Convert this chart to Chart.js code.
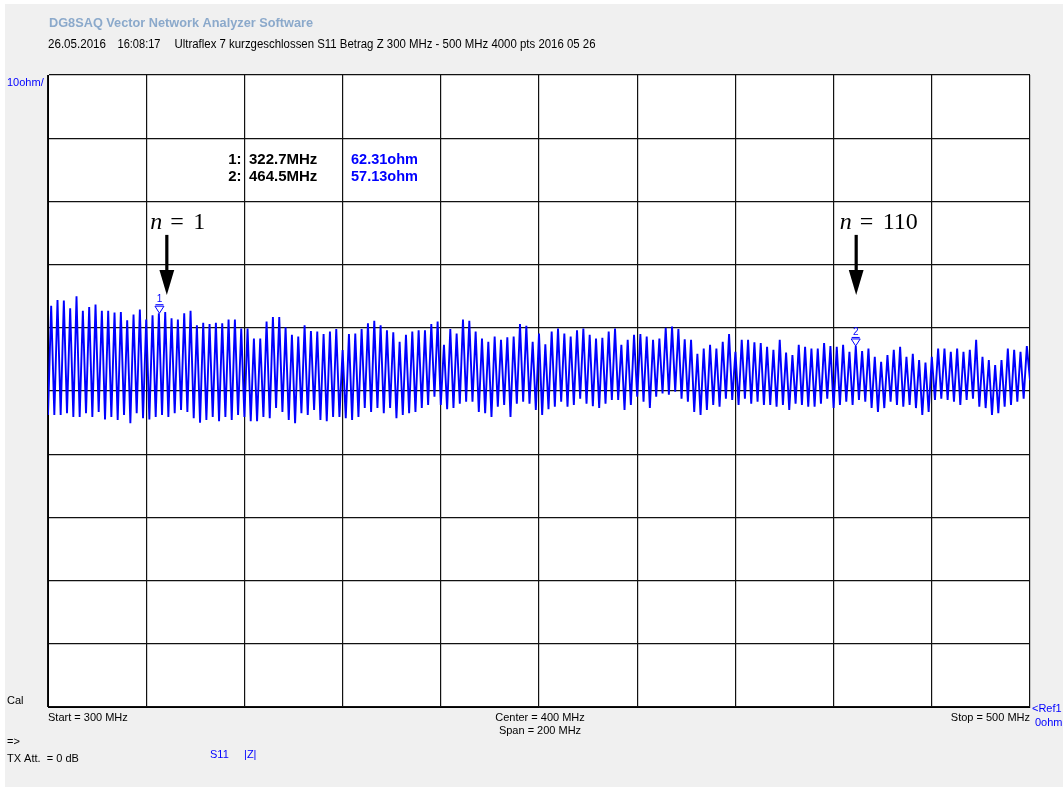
<!DOCTYPE html>
<html>
<head>
<meta charset="utf-8">
<title>DG8SAQ VNA - S11 |Z|</title>
<script src="https://cdn.jsdelivr.net/npm/chart.js@4.4.0/dist/chart.umd.min.js"></script>
<style>
  html, body { margin: 0; padding: 0; background: #fff; }
  canvas { display: block; }
</style>
</head>
<body>
<canvas id="vna" width="1063" height="787"></canvas>
<script>
// sweep settings (from the header: 300 MHz - 500 MHz)
const fStart = 300;
const fStop = 500;

// |Z| in ohm, minimum and maximum of each ripple left to right
const troughs = [
  46.2, 46.2, 46.2, 46.5, 45.9, 45.9, 46.5, 45.9, 46.7, 45.5, 45.9, 45.4, 46.2, 44.9, 46.5, 45.7, 45.5, 45.9, 46.2, 45.9,
  46.5, 47.0, 46.7, 45.7, 45.0, 45.4, 45.9, 45.2, 45.9, 45.4, 46.2, 45.9, 45.2, 45.2, 45.9, 45.7, 47.3, 46.7, 45.4,
  44.9, 46.5, 46.2, 47.0, 45.4, 45.2, 45.9, 45.9, 45.7, 45.4, 45.9, 47.3, 46.7, 47.3, 46.5, 47.3, 45.7, 46.2, 46.5, 46.7,
  47.3, 47.8, 49.1, 47.8, 47.1, 47.3, 48.0, 48.3, 48.3, 46.7, 46.5, 45.9, 47.5, 47.8, 45.9, 48.0, 48.3, 48.0, 47.0,
  46.2, 47.1, 47.5, 48.3, 47.5, 47.8, 48.8, 48.0, 47.6, 47.3, 48.0, 48.6, 48.6, 47.0, 47.8, 49.1, 48.3, 47.3, 49.1, 49.6,
  49.4, 49.9, 48.8, 48.3, 46.7, 46.2, 47.0, 47.8, 47.5, 48.8, 48.6, 47.8, 48.8, 48.0, 48.3, 47.8, 47.8, 47.5, 47.8,
  47.0, 48.0, 47.8, 47.5, 47.5, 48.0, 48.8, 47.3, 47.8, 48.3, 47.8, 48.6, 48.3, 47.3, 46.7, 47.3, 48.3, 47.8, 47.5, 47.8,
  47.3, 46.2, 46.7, 48.6, 48.8, 48.6, 48.3, 47.8, 48.6, 48.8, 47.5, 47.3, 46.2, 46.5, 47.5, 47.8, 48.3, 48.8
];
const peaks = [
  63.5, 64.4, 64.3, 63.1, 65.0, 62.7, 63.3, 63.7, 62.7, 62.7, 62.4, 62.5, 61.2, 62.1, 62.9, 61.3, 62.0, 62.3, 62.5, 61.5,
  61.3, 62.3, 62.7, 60.4, 60.8, 60.6, 60.8, 60.7, 61.3, 61.3, 59.9, 59.9, 58.3, 58.3, 61.0, 61.7, 61.7, 60.1,
  58.9, 58.6, 60.4, 59.5, 59.4, 59.0, 59.4, 59.8, 56.5, 59.0, 59.1, 59.8, 60.7, 61.1, 60.4, 59.6, 59.3, 57.8, 58.9, 59.4,
  59.6, 59.6, 60.6, 61.0, 57.3, 59.8, 59.1, 61.3, 61.1, 59.4, 58.3, 57.8, 58.6, 58.1, 58.5, 58.6, 60.6, 60.3, 57.8, 59.1,
  57.4, 59.4, 59.9, 59.1, 58.6, 59.6, 59.9, 58.9, 58.3, 58.4, 59.4, 59.9, 57.3, 58.1, 58.9, 59.0, 58.6, 58.1, 58.3, 60.0,
  60.2, 59.8, 58.2, 58.1, 55.9, 56.7, 57.3, 56.7, 57.8, 59.0, 56.2, 58.1, 58.1, 57.7, 57.6, 57.0, 56.5, 58.1, 56.1,
  55.7, 57.3, 57.0, 56.7, 56.7, 57.6, 57.1, 57.0, 57.3, 56.2, 57.13, 56.3, 56.7, 55.4, 54.6, 55.7, 56.5, 57.0, 55.4, 55.9,
  54.9, 54.5, 55.4, 56.7, 56.7, 56.2, 56.7, 56.2, 56.5, 58.1, 55.4, 54.9, 54.1, 54.9, 56.7, 56.5, 56.2, 57.1
];
const lastValue = 51.7; // trace value at 500 MHz

// markers 1 and 2
const markerFreqs = [322.7, 464.5];
const markerValues = [62.31, 57.13];

// the "n = ..." arrows
const arrowLabels = ['1', '110'];
const arrowFreqs = [324.2, 464.6];

// build the trace on the sweep grid
const trace = [];
for (let i = 0; i < peaks.length; i++) {
  trace.push(troughs[i], peaks[i]);
}
trace.push(lastValue);
const step = (fStop - fStart) / (trace.length - 1);
const tracePoints = trace.map((v, k) => ({ x: fStart + k * step, y: v }));

const blue = '#0000ff';

function text(ctx, s, x, y, font, color, align, maxW) {
  ctx.font = font;
  ctx.fillStyle = color;
  ctx.textAlign = align || 'left';
  ctx.textBaseline = 'alphabetic';
  if (maxW) ctx.fillText(s, x, y, maxW); else ctx.fillText(s, x, y);
}

const framePlugin = {
  id: 'frame',
  beforeDraw(chart) {
    const ctx = chart.ctx, a = chart.chartArea;
    ctx.save();
    ctx.fillStyle = '#ffffff';
    ctx.fillRect(0, 0, chart.width, chart.height);
    ctx.fillStyle = '#f0f0f0';
    ctx.fillRect(5, 4, chart.width - 5, chart.height - 4);
    ctx.fillStyle = '#ffffff';
    ctx.fillRect(a.left, a.top, a.right - a.left, a.bottom - a.top);
    ctx.restore();
  }
};

const labelPlugin = {
  id: 'labels',
  afterDraw(chart) {
    const ctx = chart.ctx;
    const xs = chart.scales.x, ys = chart.scales.y;
    ctx.save();
    const sans = '"Liberation Sans", Arial, sans-serif';

    // header
    text(ctx, 'DG8SAQ Vector Network Analyzer Software', 49, 26.5, 'bold 13px ' + sans, '#8ba9cb', 'left', 264);
    text(ctx, '26.05.2016', 48, 48, '12px ' + sans, '#000', 'left', 58);
    text(ctx, '16:08:17', 117.5, 48, '12px ' + sans, '#000', 'left', 43);
    text(ctx, 'Ultraflex 7 kurzgeschlossen S11 Betrag Z 300 MHz - 500 MHz 4000 pts 2016 05 26', 174.5, 48, '12px ' + sans, '#000', 'left', 421);

    // left / bottom info
    text(ctx, '10ohm/', 7, 86, '11px ' + sans, blue, 'left');
    text(ctx, 'Cal', 7, 704, '11px ' + sans, '#000', 'left');
    text(ctx, 'Start = ' + fStart + ' MHz', 48, 721, '11px ' + sans, '#000', 'left');
    text(ctx, 'Center = ' + (fStart + fStop) / 2 + ' MHz', 540, 721, '11px ' + sans, '#000', 'center');
    text(ctx, 'Span = ' + (fStop - fStart) + ' MHz', 540, 734, '11px ' + sans, '#000', 'center');
    text(ctx, 'Stop = ' + fStop + ' MHz', 1030, 721, '11px ' + sans, '#000', 'right');
    text(ctx, '<Ref1', 1032, 711.5, '11px ' + sans, blue, 'left');
    text(ctx, '0ohm', 1035, 726, '11px ' + sans, blue, 'left');
    text(ctx, '=>', 7, 745, '11px ' + sans, '#000', 'left');
    text(ctx, 'TX Att.  = 0 dB', 7, 761.5, '11px ' + sans, '#000', 'left');
    text(ctx, 'S11     |Z|', 210, 758, '11px ' + sans, blue, 'left');

    // marker table
    markerFreqs.forEach((f, i) => {
      const y = 164 + i * 16.5;
      text(ctx, (i + 1) + ':', 241.5, y, 'bold 15px ' + sans, '#000', 'right');
      text(ctx, f.toFixed(1) + 'MHz', 249, y, 'bold 15px ' + sans, '#000', 'left', 69);
      text(ctx, markerValues[i].toFixed(2) + 'ohm', 351, y, 'bold 15px ' + sans, blue, 'left', 67);
    });

    // marker symbols on the trace
    markerFreqs.forEach((f, i) => {
      const px = xs.getPixelForValue(f);
      const py = ys.getPixelForValue(markerValues[i]);
      ctx.strokeStyle = blue;
      ctx.lineWidth = 1;
      ctx.beginPath();
      ctx.moveTo(px, py);
      ctx.lineTo(px - 4.5, py - 7);
      ctx.lineTo(px + 4.5, py - 7);
      ctx.closePath();
      ctx.stroke();
      ctx.beginPath();
      ctx.moveTo(px - 4, py - 8.5);
      ctx.lineTo(px + 4, py - 8.5);
      ctx.stroke();
      text(ctx, String(i + 1), px, py - 11, '10px ' + sans, blue, 'center');
    });

    // n = ... arrows
    const serif = '"Liberation Serif", "Times New Roman", serif';
    arrowFreqs.forEach((f, i) => {
      const ax = xs.getPixelForValue(f);
      const tip = ys.getPixelForValue(65.2);
      const top = ys.getPixelForValue(74.7);
      const base = tip - 25;
      ctx.fillStyle = '#000';
      ctx.fillRect(ax - 1.6, top, 3.2, base - top + 1);
      ctx.beginPath();
      ctx.moveTo(ax - 7.4, base);
      ctx.lineTo(ax + 7.4, base);
      ctx.lineTo(ax, tip);
      ctx.closePath();
      ctx.fill();
      const x0 = ax - 16.5;
      const by = top - 6;
      text(ctx, 'n', x0, by, 'italic 24px ' + serif, '#000', 'left');
      text(ctx, '=', x0 + 20, by, '24px ' + serif, '#000', 'left');
      text(ctx, arrowLabels[i], x0 + 43, by, '24px ' + serif, '#000', 'left');
    });

    ctx.restore();
  }
};

new Chart(document.getElementById('vna'), {
  type: 'line',
  data: {
    datasets: [{
      data: tracePoints,
      borderColor: blue,
      borderWidth: 1.9,
      pointRadius: 0,
      tension: 0,
      fill: false
    }]
  },
  options: {
    responsive: false,
    devicePixelRatio: 1,
    animation: false,
    events: [],
    layout: { padding: { left: 48, top: 75, right: 33, bottom: 80 } },
    plugins: { legend: { display: false }, tooltip: { enabled: false } },
    scales: {
      x: {
        type: 'linear',
        min: fStart,
        max: fStop,
        z: 1,
        ticks: { display: false, stepSize: 20 },
        grid: { color: '#111', lineWidth: 1.2, drawTicks: false },
        border: { display: true, color: '#000', width: 1 }
      },
      y: {
        min: 0,
        max: 100,
        z: 1,
        ticks: { display: false, stepSize: 10 },
        grid: { color: '#111', lineWidth: 1.2, drawTicks: false },
        border: { display: true, color: '#000', width: 1 }
      }
    }
  },
  plugins: [framePlugin, labelPlugin]
});
</script>
</body>
</html>
